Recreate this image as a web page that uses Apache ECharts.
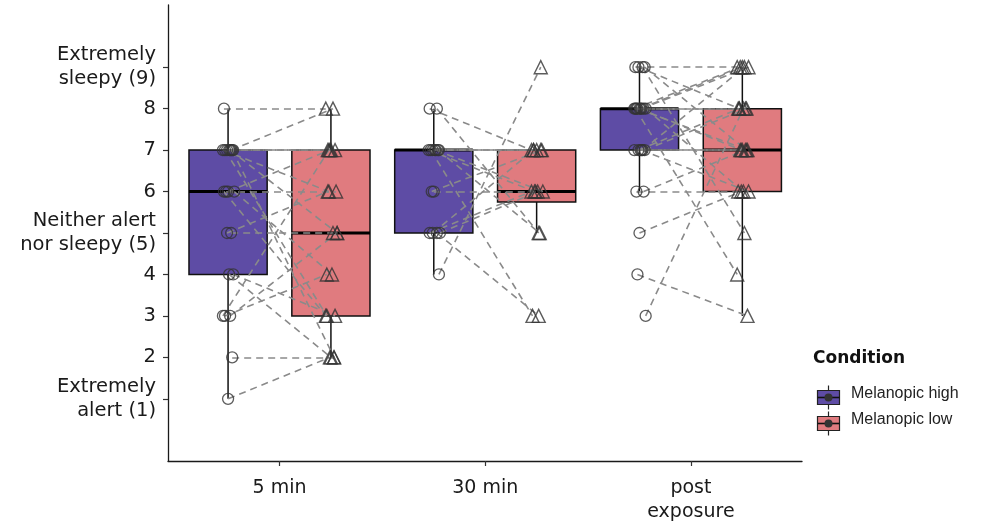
<!DOCTYPE html>
<html>
<head>
<meta charset="utf-8">
<script src="https://cdn.jsdelivr.net/npm/echarts@6/dist/echarts.min.js"></script>
<style>
html,body{margin:0;padding:0;background:#fff;}
#chart{width:987px;height:521px;}
</style>
</head>
<body>
<div id="chart"></div>
<script>
// ---- data (paired by subject within each time point) ----
const categories = ['5 min', '30 min', 'post\nexposure'];
const yTickValues = [1, 2, 3, 4, 5, 6, 7, 8, 9];
const yTickLabels = ['Extremely\nalert (1)', '2', '3', '4', 'Neither alert\nnor sleepy (5)', '6', '7', '8', 'Extremely\nsleepy (9)'];
const legendNames = ['Melanopic high', 'Melanopic low'];

const high5    = [8,7,7,7,7,7,7,7,7,6,6,6,6,5,5,4,4,3,3,3,2,1];
const low5     = [8,8,7,7,7,6,5,3,2,7,6,4,3,5,6,3,2,7,5,4,2,2];
const high30   = [8,8,7,7,7,7,7,7,7,6,6,5,5,5,5,4];
const low30    = [7,5,7,7,7,6,6,3,5,6,7,6,6,3,7,9];
const highPost = [9,9,9,9,8,8,8,8,8,8,8,8,8,7,7,7,7,7,7,6,6,5,4,3];
const lowPost  = [9,5,8,7,9,9,9,8,8,7,7,6,4,9,8,8,7,7,6,6,7,6,3,8];

// ---- styling / layout constants ----
const colHigh = '#5E4CA5';
const colLow = '#E07B7F';
const dodge = 0.25, halfW = 0.19;
const jit = [-0.02, 0.015, -0.005, 0.025, 0.005, -0.025, 0.01, -0.015, 0.02, 0.0, -0.01, 0.03];

const groups = [
  {cat: 1, high: high5, low: low5},
  {cat: 2, high: high30, low: low30},
  {cat: 3, high: highPost, low: lowPost}
];

function quant(sorted, p) {
  const h = (sorted.length - 1) * p;
  const lo = Math.floor(h);
  const hi = Math.min(lo + 1, sorted.length - 1);
  return sorted[lo] + (h - lo) * (sorted[hi] - sorted[lo]);
}
function stats(vals) {
  const s = vals.slice().sort((a, b) => a - b);
  const q1 = quant(s, 0.25), med = quant(s, 0.5), q3 = quant(s, 0.75);
  const iqr = q3 - q1;
  const lo = Math.min(...s.filter(v => v >= q1 - 1.5 * iqr));
  const hi = Math.max(...s.filter(v => v <= q3 + 1.5 * iqr));
  return [q1, med, q3, lo, hi];
}

const boxData = [];
const ptsHigh = [], ptsLow = [], segs = [];
groups.forEach(g => {
  const xh = g.cat - dodge, xl = g.cat + dodge;
  boxData.push([xh].concat(stats(g.high)).concat([0]));
  boxData.push([xl].concat(stats(g.low)).concat([1]));
  g.high.forEach((v, i) => {
    const a = [xh + jit[i % jit.length], v];
    const b = [xl + jit[(i + 5) % jit.length], g.low[i]];
    ptsHigh.push(a);
    ptsLow.push(b);
    segs.push({coords: [a, b]});
  });
});

const chart = echarts.init(document.getElementById('chart'), null, {renderer: 'canvas'});
const FONT = 'Liberation Sans, Arial, sans-serif';
const AXFONT = 'DejaVu Sans, sans-serif';

chart.setOption({
  animation: false,
  backgroundColor: '#fff',
  grid: {left: 168, right: 185, top: 5, bottom: 60, outerBoundsMode: 'none', containLabel: false},
  xAxis: {
    type: 'value', min: 0.458, max: 3.54,
    splitLine: {show: false},
    axisLine: {show: true, onZero: false, lineStyle: {color: '#1a1a1a', width: 1.3}},
    axisTick: {show: true, length: 5, customValues: [1, 2, 3], lineStyle: {color: '#333', width: 1.2}},
    axisLabel: {
      customValues: [1, 2, 3],
      formatter: v => categories[Math.round(v) - 1],
      fontSize: 19, color: '#1a1a1a', fontFamily: AXFONT, margin: 15, lineHeight: 24
    }
  },
  yAxis: {
    type: 'value', min: -0.5, max: 10.5,
    splitLine: {show: false},
    axisLine: {show: true, onZero: false, lineStyle: {color: '#1a1a1a', width: 1.3}},
    axisTick: {show: true, length: 5, customValues: yTickValues, lineStyle: {color: '#333', width: 1.2}},
    axisLabel: {
      customValues: yTickValues,
      formatter: v => yTickLabels[yTickValues.indexOf(Math.round(v))],
      fontSize: 19.5, color: '#1a1a1a', fontFamily: AXFONT, margin: 12, lineHeight: 24, align: 'right'
    }
  },
  series: [
    {
      type: 'custom',
      z: 1,
      data: boxData,
      encode: {x: 0, y: [1, 2, 3, 4, 5]},
      renderItem: function (params, api) {
        const x = api.value(0), q1 = api.value(1), med = api.value(2), q3 = api.value(3), lo = api.value(4), hi = api.value(5);
        const fill = api.value(6) === 0 ? colHigh : colLow;
        const tl = api.coord([x - halfW, q3]);
        const br = api.coord([x + halfW, q1]);
        const top = api.coord([x, hi]), qTop = api.coord([x, q3]);
        const bot = api.coord([x, lo]), qBot = api.coord([x, q1]);
        const mL = api.coord([x - halfW, med]), mR = api.coord([x + halfW, med]);
        return {
          type: 'group',
          children: [
            {type: 'line', shape: {x1: top[0], y1: top[1], x2: qTop[0], y2: qTop[1]}, style: {stroke: '#111', lineWidth: 1.5}},
            {type: 'line', shape: {x1: qBot[0], y1: qBot[1], x2: bot[0], y2: bot[1]}, style: {stroke: '#111', lineWidth: 1.5}},
            {type: 'rect', shape: {x: tl[0], y: tl[1], width: br[0] - tl[0], height: br[1] - tl[1]}, style: {fill: fill, stroke: '#111', lineWidth: 1.5}},
            {type: 'line', shape: {x1: mL[0], y1: mL[1], x2: mR[0], y2: mR[1]}, style: {stroke: '#000', lineWidth: 3}}
          ]
        };
      }
    },
    {
      type: 'lines',
      coordinateSystem: 'cartesian2d',
      z: 2,
      polyline: false,
      silent: true,
      lineStyle: {color: '#8a8a8a', width: 1.6, type: [7, 5], opacity: 1},
      data: segs
    },
    {
      type: 'scatter', z: 3, name: legendNames[0],
      symbol: 'circle', symbolSize: 11,
      itemStyle: {color: 'rgba(0,0,0,0)', borderColor: '#333', borderWidth: 1.3},
      data: ptsHigh
    },
    {
      type: 'scatter', z: 3, name: legendNames[1],
      symbol: 'triangle', symbolSize: 13,
      itemStyle: {color: 'rgba(0,0,0,0)', borderColor: '#333', borderWidth: 1.4},
      data: ptsLow
    }
  ],
  graphic: [
    {type: 'text', left: 813, top: 350, style: {text: 'Condition', font: 'bold 17px DejaVu Sans, sans-serif', fill: '#111'}},
    {type: 'group', left: 815, top: 383, children: [
      {type: 'line', shape: {x1: 11, y1: 0, x2: 11, y2: 24}, style: {stroke: '#222', lineWidth: 1.2}},
      {type: 'rect', shape: {x: 0, y: 5, width: 22, height: 14}, style: {fill: colHigh, stroke: '#222', lineWidth: 1.2}},
      {type: 'line', shape: {x1: 0, y1: 12, x2: 22, y2: 12}, style: {stroke: '#111', lineWidth: 1.6}},
      {type: 'circle', shape: {cx: 11, cy: 12, r: 4}, style: {fill: '#333'}}
    ]},
    {type: 'text', left: 851, top: 386, style: {text: legendNames[0], font: '16px ' + FONT, fill: '#222'}},
    {type: 'group', left: 815, top: 409, children: [
      {type: 'line', shape: {x1: 11, y1: 0, x2: 11, y2: 24}, style: {stroke: '#222', lineWidth: 1.2}},
      {type: 'rect', shape: {x: 0, y: 5, width: 22, height: 14}, style: {fill: colLow, stroke: '#222', lineWidth: 1.2}},
      {type: 'line', shape: {x1: 0, y1: 12, x2: 22, y2: 12}, style: {stroke: '#111', lineWidth: 1.6}},
      {type: 'circle', shape: {cx: 11, cy: 12, r: 4}, style: {fill: '#333'}}
    ]},
    {type: 'text', left: 851, top: 412, style: {text: legendNames[1], font: '16px ' + FONT, fill: '#222'}}
  ]
});
</script>
</body>
</html>
